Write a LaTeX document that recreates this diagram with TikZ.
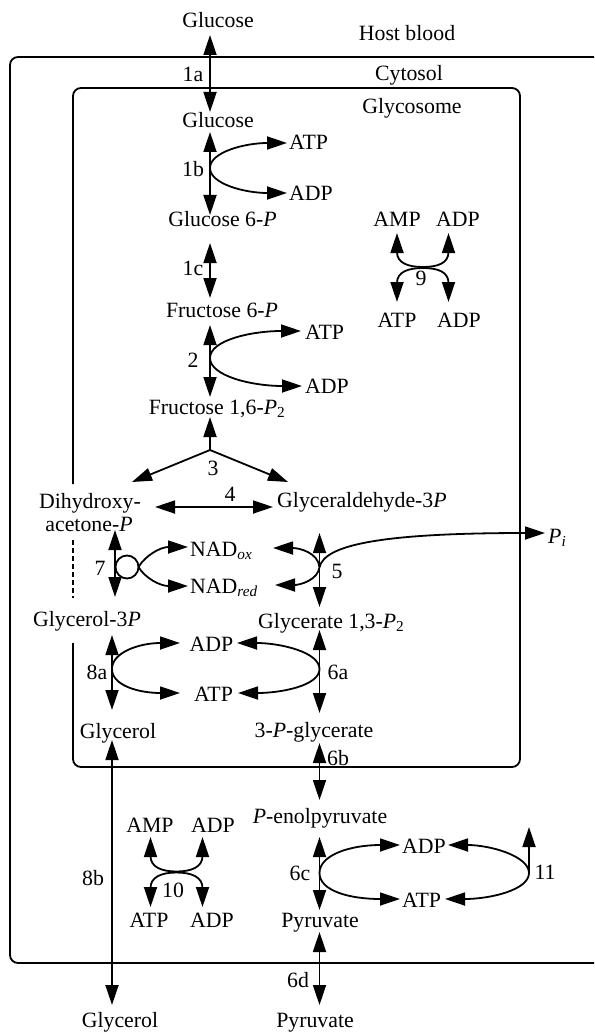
\documentclass[tikz,border=0pt]{standalone}
\usepackage{fontspec}
\setmainfont{Liberation Serif}
\usetikzlibrary{arrows.meta}
\newcommand\mysub[1]{\textsubscript{#1}}
\begin{document}
\begin{tikzpicture}[x=1pt,y=-1pt,
  lbl/.style={font=\fontsize{21.8}{24}\selectfont,inner sep=0pt,anchor=base},
  lblw/.style={lbl,anchor=base west},
  ln/.style={line width=1.8pt},
  >={Triangle[length=20pt,width=13pt]},
  dbl/.style={ln,<->},
  one/.style={ln,->},
  boxline/.style={line width=1.8pt,rounded corners=8pt}]
\useasboundingbox (0,0) rectangle (594,1032);
\clip (0,0) rectangle (594,1032);
% compartments
\draw[boxline] (10,57) rectangle (660,963);
\draw[boxline] (73,484) -- (73,88) -- (520,88) -- (520,767) -- (73,767) -- (73,643);
\draw[ln,dash pattern=on 5pt off 3pt] (73,540) -- (73,598);
% labels of compartments
\node[lbl] (host) at (407,41) {Host blood};
\node[lbl] (cyto) at (409,81) {Cytosol};
\node[lbl] (glyco) at (412,114) {Glycosome};
% metabolites
\node[lbl] (glcout) at (218,28) {Glucose};
\node[lbl] (glcin) at (218,128) {Glucose};
\node[lbl] (g6p) at (222.5,226) {Glucose 6-\textit{P}};
\node[lbl] (f6p) at (222,317) {Fructose 6-\textit{P}};
\node[lbl] (fbp) at (217,414) {Fructose 1,6-\textit{P}\mysub{2}};
\node[lbl] (dhap1) at (90,508) {Dihydroxy-};
\node[lbl] (dhap2) at (89,531) {acetone-\textit{P}};
\node[lblw] (gap) at (277,507) {Glyceraldehyde-3\textit{P}};
\node[lbl] (g3p) at (87,626) {Glycerol-3\textit{P}};
\node[lblw] (bpg) at (258,628) {Glycerate 1,3-\textit{P}\mysub{2}};
\node[lbl] (glolin) at (118,738) {Glycerol};
\node[lbl] (pga) at (314,737) {3-\textit{P}-glycerate};
\node[lbl] (pep) at (320,823) {\textit{P}-enolpyruvate};
\node[lbl] (pyrin) at (320,927) {Pyruvate};
\node[lbl] (glolout) at (120,1027) {Glycerol};
\node[lbl] (pyrout) at (315,1027) {Pyruvate};
% cofactors
\node[lblw] (atpA) at (289,150) {ATP};
\node[lblw] (adpA) at (289,201) {ADP};
\node[lblw] (atpB) at (305,339) {ATP};
\node[lblw] (adpB) at (305,393) {ADP};
\node[lbl] (amp9) at (397,226) {AMP};
\node[lbl] (adp9t) at (458,226) {ADP};
\node[lbl] (atp9) at (397,327) {ATP};
\node[lbl] (adp9b) at (459,327) {ADP};
\node[lblw] (naox) at (190,556) {NAD\mysub{\textit{ox}}};
\node[lblw] (nared) at (190,593) {NAD\mysub{\textit{red}}};
\node[lblw] (pi) at (548,543) {\textit{P}\mysub{\textit{i}}};
\node[lbl] (adpC) at (211.5,651) {ADP};
\node[lbl] (atpC) at (213.5,701) {ATP};
\node[lbl] (amp10) at (150,832) {AMP};
\node[lbl] (adp10t) at (213,832) {ADP};
\node[lbl] (atp10) at (149,927) {ATP};
\node[lbl] (adp10b) at (212,927) {ADP};
\node[lblw] (adpD) at (402,853) {ADP};
\node[lblw] (atpD) at (402,907) {ATP};
% reaction numbers
\node[lbl] (r1a) at (193,82) {1a};
\node[lbl] (r1b) at (193,177) {1b};
\node[lbl] (r1c) at (193,275) {1c};
\node[lbl] (r2) at (193,367) {2};
\node[lbl] (r3) at (213,475) {3};
\node[lbl] (r4) at (230,501) {4};
\node[lbl] (r5) at (337,578) {5};
\node[lbl] (r7) at (100,575) {7};
\node[lbl] (r9) at (421,285) {9};
\node[lbl] (r8a) at (97,679) {8a};
\node[lbl] (r6a) at (338,679) {6a};
\node[lbl] (r6b) at (338,765) {6b};
\node[lbl] (r8b) at (93,885) {8b};
\node[lbl] (r10) at (173,897) {10};
\node[lbl] (r6c) at (300,880) {6c};
\node[lbl] (r11) at (545,879) {11};
\node[lbl] (r6d) at (298,987) {6d};
% connector end points
\coordinate (a1aT) at (210,35);   \coordinate (a1aB) at (210,112);
\coordinate (a1bT) at (210,132);  \coordinate (a1bB) at (210,215);
\coordinate (a1bS) at (210,168);
\coordinate (atpAt) at (287,143); \coordinate (adpAt) at (287,193);
\coordinate (a1cT) at (210,243);  \coordinate (a1cB) at (210,298);
\coordinate (a2T) at (210,325);   \coordinate (a2B) at (210,397);
\coordinate (a2S) at (210,358);
\coordinate (atpBt) at (301,331); \coordinate (adpBt) at (302,386);
\coordinate (a3J) at (210,450);   \coordinate (a3U) at (210,417);
\coordinate (a3L) at (132,482);   \coordinate (a3R) at (288,482);
\coordinate (a4L) at (155,507);   \coordinate (a4R) at (273,507);
\coordinate (a7T) at (115,530);   \coordinate (a7B) at (115,597);
\coordinate (c7) at (127,567);    \coordinate (c7R) at (138.5,567);
\coordinate (naoxL) at (188,547); \coordinate (naredL) at (188,586);
\coordinate (a5T) at (319.5,533); \coordinate (a5B) at (319.5,607);
\coordinate (a5J) at (319.5,567);
\coordinate (naoxR) at (273,548); \coordinate (naredR) at (275,585);
\coordinate (pit) at (545,533);
\coordinate (a8aT) at (112,635);  \coordinate (a8aB) at (112,710);
\coordinate (a6aT) at (319.5,630);\coordinate (a6aB) at (319.5,713);
\coordinate (e1L) at (112,669);   \coordinate (e1R) at (319.5,669);
\coordinate (adpCl) at (180,643); \coordinate (adpCr) at (237,643);
\coordinate (atpCl) at (180,693); \coordinate (atpCr) at (238,693);
\coordinate (a8bT) at (112,740);  \coordinate (a8bB) at (112,1005);
\coordinate (a6bT) at (319.5,743);\coordinate (a6bB) at (319.5,800);
\coordinate (a6cT) at (319.5,837);\coordinate (a6cB) at (319.5,910);
\coordinate (e2L) at (319.5,873); \coordinate (e2R) at (529,873);
\coordinate (adpDl) at (400,845); \coordinate (adpDr) at (448,845);
\coordinate (atpDl) at (400,899); \coordinate (atpDr) at (445,899);
\coordinate (a11T) at (529,827);
\coordinate (a6dT) at (319.5,932);\coordinate (a6dB) at (319.5,1005);
% main chain
\draw[dbl] (a1aT) -- (a1aB);
\draw[dbl] (a1bT) -- (a1bB);
\draw[one] (a1bS) .. controls (210,152) and (245,143) .. (atpAt);
\draw[one] (a1bS) .. controls (210,184) and (245,193) .. (adpAt);
\draw[dbl] (a1cT) -- (a1cB);
\draw[dbl] (a2T) -- (a2B);
\draw[one] (a2S) .. controls (210,340) and (252,331) .. (atpBt);
\draw[one] (a2S) .. controls (210,376) and (252,386) .. (adpBt);
\draw[one] (a3J) -- (a3U);
\draw[one] (a3J) -- (a3L);
\draw[one] (a3J) -- (a3R);
\draw[dbl] (a4L) -- (a4R);
% reaction 7
\draw[dbl] (a7T) -- (a7B);
\draw[ln] (c7) circle[radius=11.5];
\draw[one] (c7R) .. controls (145,556) and (160,547) .. (naoxL);
\draw[one] (c7R) .. controls (145,578) and (160,586) .. (naredL);
% reaction 5
\draw[dbl] (a5T) -- (a5B);
\draw[one] (a5J) .. controls (318,553) and (300,548) .. (naoxR);
\draw[one] (a5J) .. controls (318,580) and (300,585) .. (naredR);
\draw[one] (a5J) .. controls (325,545) and (380,533) .. (pit);
% reactions 8a / 6a
\draw[dbl] (a8aT) -- (a8aB);
\draw[dbl] (a6aT) -- (a6aB);
\draw[one] (e1L) .. controls (112,652) and (140,643) .. (adpCl);
\draw[one] (e1L) .. controls (112,686) and (140,693) .. (atpCl);
\draw[one] (e1R) .. controls (319.5,652) and (280,643) .. (adpCr);
\draw[one] (e1R) .. controls (319.5,686) and (280,693) .. (atpCr);
% 8b, 6b
\draw[dbl] (a8bT) -- (a8bB);
\draw[dbl] (a6bT) -- (a6bB);
% reactions 6c / 11
\draw[dbl] (a6cT) -- (a6cB);
\draw[one] (e2L) .. controls (319.5,855) and (350,845) .. (adpDl);
\draw[one] (e2L) .. controls (319.5,891) and (350,899) .. (atpDl);
\draw[one] (e2R) .. controls (529,856) and (490,845) .. (adpDr);
\draw[one] (e2R) .. controls (529,890) and (490,899) .. (atpDr);
\draw[one] (e2R) -- (a11T);
\draw[dbl] (a6dT) -- (a6dB);
% reaction 9
\draw[dbl] (397,233) -- (397,252) .. controls (397,263) and (408,267) .. (423,267)
  .. controls (438,267) and (448.5,263) .. (448.5,252) -- (448.5,233);
\draw[dbl] (397,302) -- (397,283) .. controls (397,272) and (408,268) .. (423,268)
  .. controls (438,268) and (448.5,272) .. (448.5,283) -- (448.5,302);
% reaction 10
\draw[dbl] (150.5,837) -- (150.5,856) .. controls (150.5,867) and (161.5,871.5) .. (176.5,871.5)
  .. controls (191.5,871.5) and (202.5,867) .. (202.5,856) -- (202.5,837);
\draw[dbl] (150.5,907) -- (150.5,888) .. controls (150.5,877) and (161.5,872.5) .. (176.5,872.5)
  .. controls (191.5,872.5) and (202.5,877) .. (202.5,888) -- (202.5,907);
\end{tikzpicture}
\end{document}
